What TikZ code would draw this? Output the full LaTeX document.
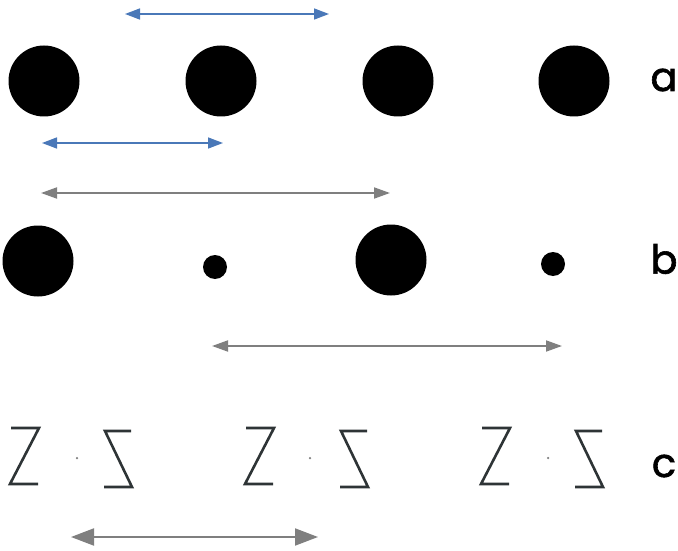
\documentclass[tikz,border=0pt]{standalone}
\usepackage{fontspec}
\setmainfont{Poppins}
\newfontfamily\lblfont{Poppins}[FakeBold=1.5]
\usetikzlibrary{arrows.meta}
\definecolor{arrblue}{HTML}{4A78B8}
\definecolor{arrgray}{HTML}{7F7F7F}
\definecolor{zgray}{HTML}{2E3436}
\tikzset{
  big/.style={circle,fill=black,inner sep=0pt,minimum width=70pt,minimum height=71pt},
  small/.style={circle,fill=black,inner sep=0pt,minimum width=23pt,minimum height=24pt},
  tiny/.style={circle,fill=arrgray,inner sep=0pt,minimum size=2.5pt},
  lbl/.style={font=\lblfont\fontsize{40}{40}\selectfont,anchor=center,inner sep=0pt},
  bluearr/.style={draw=arrblue,line width=1.5pt,{Triangle[length=15pt,width=11pt]}-{Triangle[length=15pt,width=11pt]},arrblue},
  grayarr/.style={draw=arrgray,line width=1.8pt,{Triangle[length=16pt,width=11pt]}-{Triangle[length=16pt,width=11pt]},arrgray},
  grayarrbig/.style={draw=arrgray,line width=2pt,{Triangle[length=23pt,width=17pt]}-{Triangle[length=23pt,width=17pt]},arrgray},
  zline/.style={draw=zgray,line width=2.6pt,line join=miter}
}
\begin{document}
\begin{tikzpicture}[x=1pt,y=-1pt]
\useasboundingbox (0,0) rectangle (678,551);
% row a
\node[big] (a1) at (44,81) {};
\node[big] (a2) at (221,81) {};
\node[big] (a3) at (398,81) {};
\node[big] (a4) at (574,81) {};
\node[lbl] (la) at (664,80) {a};
\coordinate (ta1) at (125,14);
\coordinate (ta2) at (329,14);
\draw[bluearr] (ta1) -- (ta2);
\coordinate (ba1) at (42,143);
\coordinate (ba2) at (223,143);
\draw[bluearr] (ba1) -- (ba2);
\coordinate (ga1) at (41,193);
\coordinate (ga2) at (390,193);
\draw[grayarr] (ga1) -- (ga2);
% row b
\node[big] (b1) at (38,261) {};
\node[small] (b2) at (215,267) {};
\node[big] (b3) at (391,260) {};
\node[small] (b4) at (553,264) {};
\node[lbl] (lb) at (664,259) {b};
\coordinate (gb1) at (212,346);
\coordinate (gb2) at (562,346);
\draw[grayarr] (gb1) -- (gb2);
% row c
\foreach \i/\zx/\dx/\mx in {1/10/77/104, 2/245/310/340, 3/481/548/575}{
  \draw[zline] (\zx+1,428) -- (\zx+29,428) -- (\zx,484) -- (\zx+28,484);
  \node[tiny] (d\i) at (\dx,458) {};
  \draw[zline] (\mx,431) -- (\mx+27,431) -- (\mx+1,431) -- (\mx+28,487) -- (\mx,487);
}
\node[lbl] (lc) at (664,466) {c};
\coordinate (gc1) at (71,537);
\coordinate (gc2) at (318,537);
\draw[grayarrbig] (gc1) -- (gc2);
\end{tikzpicture}
\end{document}
